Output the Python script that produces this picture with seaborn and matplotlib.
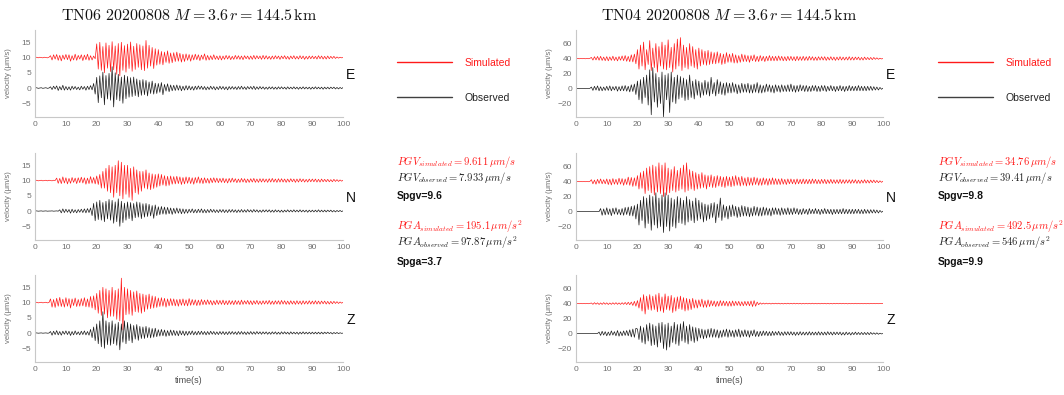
import numpy as np
import pandas as pd
import matplotlib
matplotlib.use("Agg")
import matplotlib.pyplot as plt
from matplotlib.lines import Line2D
import seaborn as sns

# ---------------- data (velocity, um/s, sampled every 0.5 s) ----------------
dt = 0.5
stations = ["TN06", "TN04"]
components = ["E", "N", "Z"]
titles = {"TN06": r"$\mathrm{TN06\ 20200808}\ M = 3.6\,r = 144.5\,\mathrm{km}$",
          "TN04": r"$\mathrm{TN04\ 20200808}\ M = 3.6\,r = 144.5\,\mathrm{km}$"}
sim_shift = {"TN06": 10, "TN04": 40}

tn06_e_sim = [
 0.0, 0.1, -0.1, 0.1, 0.0, -0.1, 0.1, 0.0, -0.1, 0.1,
 0.6, -0.8, 0.9, -0.5, 1.0, -0.9, 0.7, -1.1, 0.8, -0.6,
 1.0, -0.7, 0.9, -1.2, 0.6, -0.8, 1.1, -0.9, 0.7, -0.5,
 0.9, -1.0, 0.8, -0.7, 1.1, -0.9, 0.6, -0.8, 0.5, -0.4,
 4.5, -3.8, 5.0, -4.2, 3.6, -5.0, 4.8, -3.5, 4.0, -4.6,
 5.2, -4.0, 3.8, -5.5, 4.6, -6.0, 5.0, -4.2, 3.9, -4.8,
 4.4, -3.6, 5.1, -4.5, 3.7, -3.9, 4.6, -3.2, 4.2, -4.0,
 3.8, -4.3, 5.6, -3.5, 4.0, -2.8, 3.3, -3.6, 2.9, -2.5,
 2.6, -2.2, 2.0, -2.4, 1.8, -1.6, 2.2, -1.9, 1.5, -1.7,
 1.6, -1.3, 1.8, -1.2, 1.4, -1.5, 1.1, -1.3, 1.2, -0.9,
 1.0, -1.2, 0.9, -0.8, 1.1, -0.7, 0.9, -1.0, 0.8, -0.6,
 1.2, -0.9, 0.7, -0.8, 0.6, -0.7, 0.9, -0.6, 0.5, -0.7,
 0.6, -0.8, 0.5, -0.6, 0.7, -0.5, 0.6, -0.7, 0.4, -0.6,
 0.7, -0.5, 0.6, -0.6, 0.5, -0.7, 0.6, -0.4, 0.5, -0.6,
 0.5, -0.6, 0.7, -0.5, 0.6, -0.4, 0.5, -0.6, 0.7, -0.5,
 0.6, -0.5, 0.4, -0.6, 0.5, -0.5, 0.6, -0.4, 0.5, -0.6,
 0.5, -0.4, 0.6, -0.5, 0.4, -0.6, 0.5, -0.4, 0.6, -0.5,
 0.4, -0.5, 0.6, -0.4, 0.5, -0.6, 0.4, -0.5, 0.5, -0.4,
 0.5, -0.4, 0.4, -0.5, 0.6, -0.4, 0.5, -0.5, 0.4, -0.5,
 0.5, -0.4, 0.4, -0.3, 0.4, -0.3, 0.2, -0.2, 0.1, -0.1,
 0.0]
tn06_e_obs = [
 0.0, 0.1, -0.1, 0.0, 0.1, -0.1, 0.0, 0.1, -0.1, 0.0,
 0.4, -0.5, 0.6, -0.3, 0.7, -0.8, 0.5, -0.6, 0.9, -0.7,
 0.5, -0.6, 0.4, -0.7, 0.6, -0.4, 0.5, -0.5, 0.3, -0.6,
 0.6, -0.4, 0.5, -0.7, 0.6, -0.5, 0.8, -0.6, 1.5, -2.0,
 3.5, -4.8, 4.0, -3.2, 5.2, -5.5, 4.1, -3.6, 4.8, -4.0,
 7.0, -6.2, 5.0, -3.8, 4.5, -4.2, 3.6, -5.0, 4.2, -3.5,
 3.8, -3.0, 3.4, -2.8, 3.6, -2.5, 3.0, -2.9, 2.6, -2.4,
 2.8, -2.2, 2.5, -2.6, 2.0, -1.8, 2.3, -2.0, 1.6, -1.8,
 1.5, -1.4, 1.8, -2.2, 1.2, -1.0, 1.4, -1.2, 1.0, -0.9,
 0.9, -0.8, 1.0, -0.7, 0.8, -0.9, 0.6, -0.7, 0.8, -0.6,
 0.7, -0.6, 0.5, -0.7, 0.6, -0.5, 0.7, -0.4, 0.6, -0.5,
 0.5, -0.6, 0.4, -0.5, 0.6, -0.4, 0.5, -0.6, 0.4, -0.5,
 0.6, -0.4, 0.5, -0.5, 0.4, -0.6, 0.5, -0.4, 0.5, -0.4,
 0.4, -0.5, 0.5, -0.4, 0.6, -0.4, 0.4, -0.5, 0.5, -0.3,
 0.5, -0.4, 0.6, -0.5, 0.4, -0.4, 0.5, -0.3, 0.4, -0.4,
 0.3, -0.4, 0.4, -0.3, 0.4, -0.4, 0.3, -0.4, 0.4, -0.3,
 0.4, -0.3, 0.3, -0.4, 0.4, -0.3, 0.3, -0.3, 0.4, -0.3,
 0.3, -0.4, 0.3, -0.3, 0.4, -0.3, 0.3, -0.3, 0.3, -0.4,
 0.3, -0.3, 0.4, -0.3, 0.3, -0.3, 0.3, -0.4, 0.3, -0.3,
 0.3, -0.3, 0.3, -0.2, 0.3, -0.3, 0.2, -0.3, 0.2, -0.2,
 0.2]
tn06_n_sim = [
 0.0, 0.1, -0.1, 0.0, 0.1, -0.1, 0.0, 0.1, -0.1, 0.1,
 0.0, -0.1, 0.1, 0.0, 0.8, -0.9, 0.7, -1.0, 1.2, -0.8,
 0.9, -1.1, 0.7, -0.9, 1.0, -0.6, 0.8, -1.0, 0.9, -0.7,
 1.1, -0.8, 0.9, -1.2, 0.8, -1.0, 1.3, -0.9, 1.0, -1.1,
 1.5, -1.3, 2.0, -2.5, 3.0, -2.5, 4.0, -3.5, 5.0, -4.0,
 4.5, -5.5, 5.0, -4.0, 6.5, -5.0, 6.0, -6.0, 5.0, -4.5,
 5.0, -5.5, 4.0, -6.5, 4.5, -4.0, 3.5, -4.5, 3.0, -3.5,
 3.0, -2.5, 3.5, -2.8, 2.5, -3.0, 2.2, -2.6, 2.0, -2.2,
 2.2, -1.8, 2.0, -1.5, 1.6, -1.8, 1.4, -1.6, 1.5, -1.2,
 1.3, -1.1, 1.4, -1.0, 1.2, -1.3, 1.0, -1.1, 1.2, -0.9,
 1.1, -1.0, 0.9, -1.2, 1.0, -0.8, 1.2, -0.9, 0.8, -1.0,
 0.9, -0.8, 0.7, -0.9, 0.8, -0.7, 0.9, -0.6, 0.8, -0.7,
 0.7, -0.6, 0.8, -0.7, 0.6, -0.8, 0.7, -0.6, 0.8, -0.5,
 0.6, -0.7, 0.5, -0.6, 0.7, -0.5, 0.6, -0.7, 0.5, -0.6,
 0.6, -0.5, 0.7, -0.6, 0.5, -0.6, 0.6, -0.5, 0.6, -0.5,
 0.5, -0.6, 0.6, -0.5, 0.7, -0.5, 0.5, -0.6, 0.6, -0.5,
 0.6, -0.5, 0.5, -0.6, 0.5, -0.5, 0.6, -0.4, 0.5, -0.6,
 0.5, -0.5, 0.6, -0.4, 0.5, -0.5, 0.4, -0.5, 0.5, -0.4,
 0.5, -0.4, 0.5, -0.5, 0.4, -0.5, 0.5, -0.4, 0.4, -0.4,
 0.4, -0.4, 0.3, -0.4, 0.4, -0.3, 0.3, -0.3, 0.2, -0.2,
 0.1]
tn06_n_obs = [
 0.0, 0.05, -0.05, 0.0, 0.05, -0.05, 0.0, 0.05, -0.05, 0.0,
 0.0, 0.05, -0.05, 0.0, 0.05, -0.05, 0.4, -0.6, 0.7, -0.5,
 0.6, -0.4, 0.5, -0.7, 0.6, -0.5, 0.4, -0.6, 0.5, -0.4,
 0.6, -0.5, 0.7, -0.6, 0.8, -0.5, 1.0, -1.5, 2.5, -3.2,
 3.0, -2.8, 3.5, -3.0, 2.8, -3.5, 3.2, -2.6, 3.8, -3.0,
 3.5, -4.0, 3.0, -3.5, 4.0, -5.0, 3.2, -3.8, 2.6, -3.0,
 3.0, -2.5, 2.8, -3.2, 2.5, -2.2, 3.0, -2.0, 2.8, -2.5,
 2.4, -2.0, 2.5, -1.8, 2.2, -1.6, 1.8, -2.4, 2.0, -1.5,
 1.4, -1.2, 1.5, -1.0, 1.3, -1.1, 1.2, -0.9, 1.0, -1.1,
 0.9, -0.8, 1.0, -0.7, 0.8, -0.9, 0.7, -0.8, 0.6, -0.7,
 0.6, -0.5, 0.7, -0.6, 0.5, -0.6, 0.6, -0.5, 0.7, -0.6,
 0.5, -0.6, 0.5, -0.5, 0.6, -0.4, 0.5, -0.5, 0.4, -0.5,
 0.5, -0.4, 0.5, -0.5, 0.4, -0.5, 0.5, -0.4, 0.5, -0.4,
 0.4, -0.5, 0.4, -0.4, 0.5, -0.4, 0.4, -0.4, 0.5, -0.3,
 0.4, -0.4, 0.5, -0.3, 0.4, -0.4, 0.3, -0.4, 0.4, -0.3,
 0.4, -0.3, 0.4, -0.4, 0.3, -0.4, 0.4, -0.3, 0.3, -0.4,
 0.3, -0.4, 0.3, -0.3, 0.4, -0.3, 0.3, -0.3, 0.4, -0.3,
 0.3, -0.3, 0.4, -0.3, 0.3, -0.3, 0.3, -0.4, 0.3, -0.3,
 0.3, -0.3, 0.3, -0.3, 0.4, -0.3, 0.3, -0.3, 0.3, -0.3,
 0.3, -0.2, 0.3, -0.3, 0.2, -0.3, 0.2, -0.2, 0.2, -0.2,
 0.1]
tn06_z_sim = [
 0.0, 0.1, -0.1, 0.0, 0.1, -0.1, 0.0, 0.1, -0.1, 0.0,
 1.2, -1.5, 1.0, -1.6, 1.4, -1.2, 1.7, -1.3, 1.1, -1.5,
 1.6, -1.2, 1.3, -1.8, 1.2, -1.0, 1.5, -1.3, 1.0, -1.2,
 1.3, -1.1, 1.6, -1.4, 1.2, -1.5, 2.0, -1.8, 2.2, -2.4,
 3.0, -3.5, 4.0, -4.2, 5.0, -3.8, 4.5, -5.0, 4.0, -4.5,
 5.0, -4.5, 4.0, -5.5, 4.5, -6.0, 8.0, -9.0, 5.0, -4.0,
 4.5, -3.8, 4.0, -4.2, 3.5, -3.0, 3.8, -3.2, 3.0, -3.5,
 2.8, -3.0, 2.5, -2.2, 2.8, -2.0, 2.2, -1.8, 2.0, -1.6,
 1.5, -1.3, 1.6, -1.2, 1.4, -1.5, 1.2, -1.1, 1.3, -1.0,
 1.2, -1.1, 1.0, -1.2, 1.1, -0.9, 1.2, -1.0, 0.9, -1.1,
 1.3, -0.9, 1.0, -0.8, 0.9, -1.0, 0.8, -0.9, 1.0, -0.7,
 0.8, -0.7, 0.9, -0.6, 0.7, -0.8, 0.6, -0.7, 0.8, -0.6,
 0.7, -0.6, 0.8, -0.7, 0.6, -0.7, 0.7, -0.6, 0.6, -0.7,
 0.7, -0.6, 0.6, -0.7, 0.8, -0.6, 0.6, -0.5, 0.7, -0.6,
 0.6, -0.7, 0.6, -0.5, 0.7, -0.6, 0.5, -0.6, 0.6, -0.5,
 0.6, -0.5, 0.7, -0.6, 0.5, -0.6, 0.6, -0.5, 0.6, -0.6,
 0.7, -0.5, 0.6, -0.6, 0.5, -0.6, 0.6, -0.5, 0.5, -0.6,
 0.6, -0.5, 0.5, -0.6, 0.6, -0.5, 0.5, -0.5, 0.6, -0.5,
 0.5, -0.5, 0.6, -0.5, 0.5, -0.5, 0.5, -0.4, 0.5, -0.5,
 0.4, -0.5, 0.4, -0.4, 0.4, -0.3, 0.3, -0.3, 0.2, -0.2,
 0.1]
tn06_z_obs = [
 0.0, 0.05, -0.05, 0.0, 0.05, -0.05, 0.0, 0.05, -0.05, 0.0,
 0.5, -0.7, 0.6, -0.5, 0.8, -0.6, 0.5, -0.7, 0.6, -0.4,
 0.7, -0.5, 0.6, -0.8, 0.5, -0.6, 0.7, -0.5, 0.4, -0.6,
 0.6, -0.5, 0.7, -0.6, 0.5, -0.7, 1.2, -1.5, 2.0, -2.5,
 3.0, -3.5, 4.0, -4.5, 7.0, -5.0, 4.0, -3.8, 3.5, -4.0,
 4.0, -3.5, 3.0, -4.0, 3.5, -5.5, 3.0, -3.0, 4.0, -3.5,
 3.5, -2.5, 3.0, -3.2, 2.5, -2.0, 2.8, -2.4, 2.2, -1.8,
 2.0, -1.8, 2.2, -1.5, 1.8, -1.6, 1.5, -1.4, 1.6, -1.2,
 1.1, -1.0, 1.2, -0.9, 1.0, -1.1, 0.8, -0.9, 1.0, -0.8,
 0.9, -0.8, 0.7, -0.9, 0.8, -0.6, 0.7, -0.8, 0.6, -0.7,
 0.6, -0.5, 0.7, -0.6, 0.5, -0.6, 0.6, -0.5, 0.6, -0.5,
 0.5, -0.6, 0.5, -0.5, 0.6, -0.4, 0.5, -0.5, 0.4, -0.5,
 0.5, -0.4, 0.5, -0.5, 0.4, -0.5, 0.5, -0.4, 0.5, -0.4,
 0.4, -0.5, 0.5, -0.4, 0.5, -0.4, 0.4, -0.5, 0.4, -0.4,
 0.5, -0.4, 0.4, -0.4, 0.5, -0.3, 0.4, -0.4, 0.4, -0.3,
 0.4, -0.4, 0.3, -0.4, 0.4, -0.3, 0.4, -0.4, 0.3, -0.4,
 0.4, -0.3, 0.4, -0.3, 0.3, -0.4, 0.4, -0.3, 0.3, -0.3,
 0.3, -0.4, 0.3, -0.3, 0.4, -0.3, 0.3, -0.3, 0.3, -0.3,
 0.3, -0.3, 0.3, -0.3, 0.3, -0.3, 0.3, -0.3, 0.3, -0.2,
 0.3, -0.2, 0.2, -0.3, 0.2, -0.2, 0.2, -0.2, 0.1, -0.1,
 0.0]

tn04_e_sim = [
 0.0, 0.3, -0.3, 0.2, -0.2, 0.3, -0.3, 0.2, -0.2, 0.3,
 1.5, -2.0, 2.5, -1.8, 2.8, -2.2, 3.0, -2.5, 2.0, -2.8,
 2.6, -3.0, 2.2, -2.4, 3.2, -2.6, 2.0, -3.1, 2.7, -2.2,
 3.5, -2.8, 4.0, -3.6, 2.9, -4.2, 5.0, -4.5, 6.0, -7.0,
 12, -14, 18, -10, 22, -15, 12, -8, 24, -16,
 14, -12, 20, -18, 16, -10, 22, -14, 18, -15,
 25, -12, 15, -18, 20, -14, 26, -10, 28, -16,
 18, -12, 15, -14, 20, -10, 16, -12, 12, -14,
 14, -10, 12, -8, 10, -9, 11, -8, 9, -7,
 8, -7, 9, -6, 7, -8, 6, -7, 8, -5,
 6, -5, 7, -6, 5, -6, 4, -5, 6, -4,
 5, -4, 4, -5, 4, -3, 5, -4, 3, -4,
 4, -3, 3, -4, 3, -3, 4, -3, 3, -3,
 3, -3, 3.5, -2.5, 3, -3, 2.5, -3, 3, -2.5,
 3, -2.5, 2.5, -3, 3, -2.5, 2.5, -2.5, 3, -2.5,
 2.5, -2.5, 3, -2, 2.5, -2.5, 2, -2.5, 2.5, -2,
 2.5, -2, 2.5, -2.5, 2, -2, 2.5, -2, 2, -2.5,
 2, -2, 2.5, -2, 2, -2, 2, -2, 2.5, -2,
 2, -2, 2, -1.5, 2, -2, 1.5, -2, 2, -1.5,
 1.5, -1.5, 1.5, -1.5, 1.5, -1, 1, -1, 0.5, -0.5,
 0.0]
tn04_e_obs = [
 0.0, 0.2, -0.2, 0.1, -0.1, 0.2, -0.2, 0.1, -0.1, 0.2,
 2.0, -2.5, 3.0, -2.0, 3.5, -3.0, 2.5, -3.0, 2.0, -2.5,
 3.0, -2.5, 3.5, -3.0, 2.5, -2.0, 3.0, -3.5, 2.5, -3.0,
 3.5, -3.0, 4.0, -3.5, 3.0, -4.5, 5.0, -4.0, 6.0, -8.0,
 10, -15, 12, -20, 15, -12, 18, -22, 25, -35,
 28, -18, 20, -25, 15, -20, 22, -38, 18, -15,
 20, -32, 22, -18, 15, -20, 18, -14, 16, -12,
 14, -16, 12, -15, 18, -12, 10, -14, 12, -9,
 10, -12, 8, -9, 11, -8, 9, -10, 15, -7,
 8, -10, 12, -7, 9, -8, 7, -9, 8, -6,
 7, -6, 8, -5, 6, -7, 5, -6, 7, -5,
 6, -5, 7, -6, 5, -6, 6, -5, 8, -6,
 5, -6, 4, -5, 6, -4, 5, -5, 4, -6,
 5, -4, 4, -5, 5, -4, 4, -4, 5, -4,
 6, -4, 4, -5, 4, -4, 5, -3, 4, -4,
 4, -4, 3, -4, 4, -3, 4, -4, 3, -4,
 4, -3, 4, -4, 3, -3, 4, -3, 3, -4,
 3, -3, 4, -3, 3, -4, 3, -3, 4, -3,
 3, -3, 3, -3, 4, -3, 3, -3, 3, -3,
 3, -2.5, 3, -2.5, 2.5, -2, 2, -2, 1.5, -1,
 0.5]
tn04_n_sim = [
 0.0, 0.2, -0.2, 0.2, -0.2, 0.2, -0.2, 0.2, -0.2, 0.2,
 2.5, -3.0, 2.0, -3.5, 3.0, -2.5, 3.5, -3.0, 2.5, -3.0,
 3.5, -4.0, 3.0, -4.5, 4.0, -3.5, 3.0, -4.0, 4.5, -3.5,
 4.0, -5.0, 3.5, -4.0, 6.0, -5.0, 5.5, -6.5, 5.0, -6.0,
 8, -10, 12, -9, 14, -16, 18, -12, 20, -15,
 22, -18, 20, -14, 25, -16, 22, -20, 25, -18,
 18, -15, 16, -12, 20, -14, 15, -12, 18, -10,
 22, -14, 25, -12, 16, -10, 14, -12, 12, -10,
 10, -9, 12, -8, 9, -10, 8, -7, 9, -8,
 7, -8, 8, -6, 7, -7, 6, -8, 7, -6,
 6, -7, 7, -6, 8, -5, 6, -6, 7, -5,
 5, -6, 6, -5, 5, -5, 6, -4, 5, -5,
 4, -5, 5, -4, 4, -5, 4, -4, 5, -4,
 4, -4, 3.5, -4, 4, -3.5, 3, -4, 3.5, -3,
 3.5, -3, 3, -3.5, 3.5, -3, 3, -3, 3.5, -3,
 3, -3, 3, -3, 3.5, -2.5, 3, -3, 2.5, -3,
 3, -2.5, 3, -3, 2.5, -2.5, 3, -2.5, 2.5, -2.5,
 2.5, -2.5, 3, -2.5, 2.5, -2.5, 2.5, -2, 2.5, -2.5,
 2.5, -2, 2.5, -2.5, 2, -2.5, 2, -2, 2.5, -2,
 2, -2, 2, -1.5, 2, -1.5, 1.5, -1.5, 1, -1,
 0.5]
tn04_n_obs = [
 0.0, 0.1, -0.1, 0.1, -0.1, 0.1, -0.1, 0.1, -0.1, 0.1,
 0.0, -0.1, 0.1, -0.1, 0.1, -0.1, 4.0, -5.0, 3.5, -4.5,
 5.0, -4.0, 3.5, -5.5, 4.5, -3.5, 5.0, -4.0, 3.0, -4.5,
 4.0, -5.0, 5.5, -4.0, 6.0, -5.5, 7.0, -6.0, 8.0, -10,
 10, -18, 15, -12, 20, -22, 18, -16, 22, -25,
 20, -18, 25, -22, 18, -20, 22, -28, 25, -20,
 22, -26, 18, -20, 16, -22, 20, -15, 18, -16,
 15, -18, 20, -14, 16, -12, 14, -15, 18, -12,
 15, -10, 12, -14, 10, -12, 9, -10, 11, -8,
 12, -15, 10, -8, 18, -12, 9, -8, 7, -10,
 8, -7, 9, -6, 7, -8, 6, -7, 8, -6,
 7, -6, 6, -7, 5, -6, 7, -5, 6, -6,
 5, -6, 6, -5, 5, -5, 4, -6, 5, -4,
 5, -4, 4, -5, 5, -4, 4, -4, 5, -4,
 4, -4, 5, -3, 4, -4, 3, -4, 4, -3,
 3, -4, 4, -3, 3, -3, 4, -3, 3, -4,
 3, -3, 4, -3, 3, -3, 3, -4, 3, -3,
 3, -3, 3, -3, 4, -3, 3, -3, 3, -3,
 3, -3, 3, -2.5, 3, -3, 2.5, -3, 3, -2.5,
 2.5, -2.5, 2.5, -2, 2.5, -2, 2, -2, 1.5, -1,
 0.5]
tn04_z_sim = [
 0.0, 0.2, -0.2, 0.2, -0.2, 0.2, -0.2, 0.2, -0.2, 0.2,
 0.8, -1.0, 1.2, -0.8, 1.0, -1.2, 0.9, -1.1, 1.3, -0.9,
 1.0, -1.2, 0.8, -1.0, 1.1, -0.9, 1.2, -1.0, 0.9, -1.1,
 1.2, -1.0, 1.5, -1.3, 1.8, -1.5, 2.0, -2.5, 3.0, -3.5,
 4, -6, 8, -10, 12, -14, 10, -8, 12, -9,
 10, -8, 12, -11, 14, -10, 9, -12, 13, -8,
 10, -9, 11, -12, 8, -10, 9, -7, 10, -8,
 8, -10, 7, -9, 6, -8, 7, -6, 5, -6,
 5, -4, 6, -5, 4, -5, 5, -4, 4, -3,
 3.5, -4, 3, -3.5, 4, -3, 3.5, -3, 3, -3.5,
 3, -3.5, 3.5, -3, 3, -2.5, 3, -3, 2.5, -3,
 3, -2.5, 3, -3, 3.5, -4, 4, -3.5, 2, -1.5,
 1.0, -0.8, 0.7, -0.6, 0.6, -0.5, 0.5, -0.6, 0.5, -0.4,
 0.5, -0.4, 0.5, -0.5, 0.4, -0.5, 0.4, -0.4, 0.5, -0.4,
 0.4, -0.4, 0.5, -0.4, 0.4, -0.4, 0.4, -0.5, 0.4, -0.4,
 0.4, -0.4, 0.4, -0.4, 0.5, -0.4, 0.4, -0.4, 0.4, -0.4,
 0.4, -0.3, 0.4, -0.4, 0.4, -0.4, 0.3, -0.4, 0.4, -0.3,
 0.4, -0.3, 0.4, -0.3, 0.4, -0.3, 0.3, -0.4, 0.3, -0.3,
 0.3, -0.3, 0.4, -0.3, 0.3, -0.3, 0.3, -0.3, 0.3, -0.3,
 0.3, -0.3, 0.3, -0.2, 0.3, -0.2, 0.2, -0.2, 0.2, -0.1,
 0.0]
tn04_z_obs = [
 0.0, 0.1, -0.1, 0.1, -0.1, 0.1, -0.1, 0.1, -0.1, 0.1,
 0.0, -0.1, 0.1, -0.1, 0.1, 2.0, -2.5, 3.0, -2.0, 2.5,
 -3.0, 2.0, -2.5, 3.5, -2.0, 2.5, -3.0, 4.0, -3.5, 2.5,
 -3.0, 3.5, -2.5, 4.0, -3.0, 5.0, -4.5, 6.0, -5.0, 7.0,
 6, -8, 10, -12, 8, -14, 12, -10, 14, -16,
 12, -15, 10, -18, 14, -12, 15, -20, 12, -22,
 14, -18, 10, -12, 15, -14, 12, -16, 13, -10,
 16, -12, 10, -14, 12, -10, 9, -12, 8, -10,
 7, -6, 6, -7, 5, -6, 6, -5, 7, -5,
 6, -5, 5, -6, 4, -5, 5, -4, 6, -5,
 5, -4, 4, -5, 5, -4, 6, -5, 4, -4,
 5, -4, 4, -5, 4, -3, 5, -4, 3, -4,
 3, -3, 3.5, -2.5, 3, -3, 2.5, -3, 3, -2.5,
 2.5, -2, 3, -2.5, 2, -2.5, 2.5, -2, 2.5, -2,
 2.5, -2, 2, -2.5, 2, -2, 2.5, -2, 2, -2,
 2, -2, 2.5, -2, 2, -2, 2, -2, 2.5, -2,
 2, -2, 2, -2, 2.5, -1.5, 2, -2, 2, -1.5,
 2, -1.5, 2, -2, 1.5, -2, 2, -1.5, 1.5, -2,
 1.5, -1.5, 2, -1.5, 1.5, -1.5, 1.5, -1.5, 1.5, -1.5,
 1.5, -1.5, 1.5, -1, 1, -1, 1, -1, 0.5, -0.5,
 0.0]

traces = {
    ("TN06", "E"): (tn06_e_sim, tn06_e_obs),
    ("TN06", "N"): (tn06_n_sim, tn06_n_obs),
    ("TN06", "Z"): (tn06_z_sim, tn06_z_obs),
    ("TN04", "E"): (tn04_e_sim, tn04_e_obs),
    ("TN04", "N"): (tn04_n_sim, tn04_n_obs),
    ("TN04", "Z"): (tn04_z_sim, tn04_z_obs),
}

pgv_sim = {"TN06": "9.611", "TN04": "34.76"}
pgv_obs = {"TN06": "7.933", "TN04": "39.41"}
pga_sim = {"TN06": "195.1", "TN04": "492.5"}
pga_obs = {"TN06": "97.87", "TN04": "546"}
spgv = {"TN06": "9.6", "TN04": "9.8"}
spga = {"TN06": "3.7", "TN04": "9.9"}

yticks = {"TN06": [-5, 0, 5, 10, 15], "TN04": [-20, 0, 20, 40, 60]}
ylims = {"TN06": (-9.5, 19), "TN04": (-38, 78)}
xticks = list(range(0, 101, 10))

# ---------------- build long table ----------------
rows = []
for (st, comp), (sim, obs) in traces.items():
    for kind, vals, shift in (("Simulated", sim, sim_shift[st]), ("Observed", obs, 0)):
        for i, v in enumerate(vals):
            rows.append((st, comp, kind, i * dt, v + shift))
df = pd.DataFrame(rows, columns=["station", "comp", "kind", "time", "velocity"])

# ---------------- style ----------------
sns.set_theme(style="white")
plt.rcParams["font.family"] = ["Liberation Sans", "DejaVu Sans"]
plt.rcParams["mathtext.fontset"] = "cm"

palette = {"Simulated": "#ff1a1a", "Observed": "#1a1a1a"}
spine_c = "#c8c8c8"
tick_c = "#707070"

fig = plt.figure(figsize=(10.64, 3.95), dpi=100)

panel_x = {"TN06": (0.033, 0.2895), "TN04": (0.5414, 0.2885)}
bottoms = [0.7038, 0.3924, 0.0835]
height = 0.220

for st in stations:
    x0, w = panel_x[st]
    for k, comp in enumerate(components):
        ax = fig.add_axes([x0, bottoms[k], w, height])
        sub = df[(df.station == st) & (df.comp == comp)]
        sns.lineplot(data=sub, x="time", y="velocity", hue="kind",
                     palette=palette, hue_order=["Simulated", "Observed"],
                     estimator=None, linewidth=0.5, legend=False, ax=ax)
        ax.set_xlim(0, 100)
        ax.set_ylim(*ylims[st])
        ax.set_xticks(xticks)
        ax.set_yticks(yticks[st])
        for s in ("top", "right"):
            ax.spines[s].set_visible(False)
        for s in ("left", "bottom"):
            ax.spines[s].set_color(spine_c)
            ax.spines[s].set_linewidth(0.8)
        ax.tick_params(axis="both", direction="in", length=2, width=0.6,
                       color=spine_c, labelcolor=tick_c, labelsize=6, pad=3)
        ax.set_ylabel("velocity (μm/s)", fontsize=5.5, color=tick_c)
        ax.yaxis.set_label_coords(-0.075, 0.5)
        if k == 2:
            ax.set_xlabel("time(s)", fontsize=6.5, color="#505050", labelpad=2)
        else:
            ax.set_xlabel("")
        ax.text(1.01, 0.48, comp, transform=ax.transAxes, fontsize=10,
                color="#111111", ha="left", va="center")
        if k == 0:
            ax.set_title(titles[st], fontsize=11.5, pad=7, color="#111111")

# ---------------- side annotations ----------------
text_x = {"TN06": 0.373, "TN04": 0.8816}
for st in stations:
    tx = text_x[st]
    handles = [Line2D([], [], color=palette["Simulated"], lw=1.0),
               Line2D([], [], color="#404040", lw=1.0)]
    fig.legend(handles, ["Simulated", "Observed"], loc="upper left",
               bbox_to_anchor=(tx, 1 - 58 / 395), frameon=False,
               fontsize=7.5, handlelength=5.3, handletextpad=1.2,
               labelspacing=2.4, borderpad=0, borderaxespad=0,
               labelcolor=[palette["Simulated"], "#222222"])
    fig.text(tx, 1 - 162 / 395, r"$PGV_{simulated} = %s\,\mu m/s$" % pgv_sim[st],
             color="#ff1a1a", fontsize=7.6, va="center")
    fig.text(tx, 1 - 178 / 395, r"$PGV_{observed} = %s\,\mu m/s$" % pgv_obs[st],
             color="#222222", fontsize=7.6, va="center")
    fig.text(tx, 1 - 196 / 395, "Spgv=%s" % spgv[st], color="#111111",
             fontsize=7.5, fontweight="bold", va="center")
    fig.text(tx, 1 - 227 / 395, r"$PGA_{simulated} = %s\,\mu m/s^2$" % pga_sim[st],
             color="#ff1a1a", fontsize=7.6, va="center")
    fig.text(tx, 1 - 243 / 395, r"$PGA_{observed} = %s\,\mu m/s^2$" % pga_obs[st],
             color="#222222", fontsize=7.6, va="center")
    fig.text(tx, 1 - 262 / 395, "Spga=%s" % spga[st], color="#111111",
             fontsize=7.5, fontweight="bold", va="center")

fig.savefig("out.png", dpi=100)
